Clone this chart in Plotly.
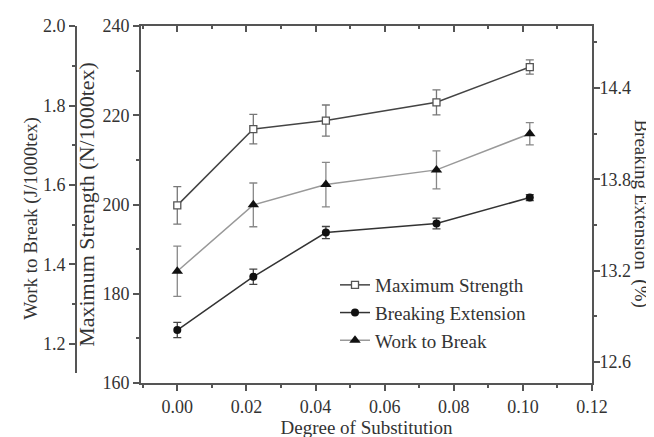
import plotly.graph_objects as go

# ---- data ----
degree_of_substitution = [0.0, 0.022, 0.043, 0.075, 0.102]
max_strength = [199.8, 216.9, 218.8, 222.9, 230.8]
max_strength_err = [4.2, 3.3, 3.5, 2.8, 1.6]
breaking_extension = [12.81, 13.16, 13.45, 13.51, 13.68]
breaking_extension_err = [0.05, 0.05, 0.04, 0.035, 0.02]
work_to_break = [1.383, 1.55, 1.601, 1.638, 1.729]
work_to_break_err = [0.063, 0.055, 0.056, 0.048, 0.028]

FONT = "Liberation Serif"
AX = "#555555"
TXT = "#333333"

W, H = 654, 437
ML, MR, MT, MB = 0, 70, 18, 62
PW = W - ML - MR
PH = H - MT - MB
x_left_px = 133
outer_axis_px = 68

fig = go.Figure()

fig.add_trace(go.Scatter(
    x=degree_of_substitution, y=max_strength, name="Maximum Strength",
    mode="lines+markers",
    line=dict(color="#444444", width=1.5),
    marker=dict(symbol="square", size=7, color="white", line=dict(color="#555555", width=1.3)),
    error_y=dict(type="data", array=max_strength_err, color="#777777", thickness=1.3, width=4),
    xaxis="x", yaxis="y",
))
fig.add_trace(go.Scatter(
    x=degree_of_substitution, y=breaking_extension, name="Breaking Extension",
    mode="lines+markers",
    line=dict(color="#333333", width=1.5),
    marker=dict(symbol="circle", size=8, color="#111111"),
    error_y=dict(type="data", array=breaking_extension_err, color="#444444", thickness=1.3, width=4),
    xaxis="x", yaxis="y2",
))
fig.add_trace(go.Scatter(
    x=degree_of_substitution, y=work_to_break, name="Work to Break",
    mode="lines+markers",
    line=dict(color="#999999", width=1.5),
    marker=dict(symbol="triangle-up", size=10, color="#111111"),
    error_y=dict(type="data", array=work_to_break_err, color="#888888", thickness=1.3, width=4),
    xaxis="x", yaxis="y3",
))
# invisible helper so the top (mirror) axis gets drawn
fig.add_trace(go.Scatter(
    x=degree_of_substitution, y=max_strength, mode="lines", opacity=0,
    line=dict(width=0), showlegend=False, hoverinfo="skip",
    xaxis="x2", yaxis="y",
))

common = dict(showline=True, linecolor=AX, linewidth=2, tickcolor=AX, tickwidth=1.5,
              showgrid=False, zeroline=False, automargin=False,
              tickfont=dict(family=FONT, size=18, color=TXT))

xrange = [-0.0105, 0.12]
x0 = (x_left_px - ML) / PW

fig.update_layout(
    width=W, height=H,
    margin=dict(l=ML, r=MR, t=MT, b=MB),
    paper_bgcolor="white", plot_bgcolor="rgba(0,0,0,0)",
    font=dict(family=FONT, color=TXT),
    xaxis=dict(**common, domain=[x0, 1], range=xrange, anchor="y",
               tick0=0, dtick=0.02, tickformat=".2f", ticks="outside", ticklen=6,
               minor=dict(tick0=0, dtick=0.01, ticks="outside", ticklen=3, tickcolor=AX),
               title=dict(text="Degree of Substitution", font=dict(family=FONT, size=19, color=TXT), standoff=2)),
    xaxis2=dict(showline=True, linecolor=AX, linewidth=2, overlaying="x", side="top", anchor="y",
                range=xrange, tick0=0, dtick=0.02, ticks="inside", ticklen=6, tickcolor=AX, tickwidth=1.5,
                showticklabels=False, showgrid=False, zeroline=False, automargin=False,
                minor=dict(tick0=0, dtick=0.01, ticks="inside", ticklen=3, tickcolor=AX)),
    yaxis=dict(**common, range=[160, 240], anchor="x", side="left",
               tick0=160, dtick=20, ticks="outside", ticklen=6,
               minor=dict(tick0=160, dtick=10, ticks="outside", ticklen=3, tickcolor=AX),
               title=dict(text="Maximum Strength (N/1000tex)", font=dict(family=FONT, size=22, color=TXT), standoff=2)),
    yaxis2=dict(**common, range=[12.462, 14.807], overlaying="y", side="right", anchor="x",
                tick0=12.6, dtick=0.6, tickformat=".1f", ticks="outside", ticklen=6,
                ticklabelstandoff=-4,
                minor=dict(tick0=12.6, dtick=0.3, ticks="outside", ticklen=3, tickcolor=AX)),
    yaxis3=dict(**common, range=[1.127, 2.0], domain=[10 / PH, 1], anchor="free",
                position=(outer_axis_px - ML) / PW, side="left",
                tick0=1.2, dtick=0.2, tickformat=".1f", ticks="outside", ticklen=6,
                minor=dict(tick0=1.2, dtick=0.1, ticks="outside", ticklen=3, tickcolor=AX)),
    legend=dict(x=(327 - ML) / PW, y=(PH + MT - 258) / PH, xanchor="left", yanchor="top",
                bgcolor="rgba(0,0,0,0)", font=dict(family=FONT, size=19, color=TXT),
                tracegroupgap=0, itemsizing="trace"),
    showlegend=True,
)

# outer-left axis title
fig.add_annotation(
    text="Work to Break (J/1000tex)", textangle=-90, showarrow=False,
    xref="paper", yref="paper", x=(23 - ML) / PW, y=0.46, xanchor="center", yanchor="middle",
    font=dict(family=FONT, size=19, color=TXT),
)
# right axis title (reads top-to-bottom)
fig.add_annotation(
    text="Breaking Extension  (%)", textangle=90, showarrow=False,
    xref="paper", yref="paper", x=(633 - ML) / PW, y=0.475, xanchor="center", yanchor="middle",
    font=dict(family=FONT, size=19, color=TXT),
)

fig.write_html("out.html")
